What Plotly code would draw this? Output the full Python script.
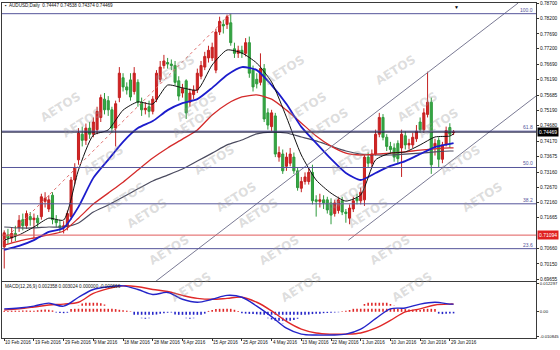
import plotly.graph_objects as go

# ---------------- DATA ----------------
bar_idx = list(range(122))
opens = [0.7071,0.7110,0.7100,0.7115,0.7135,0.7160,0.7140,0.7170,0.7160,0.7165,
         0.7170,0.7220,0.7195,0.7240,0.7160,0.7140,0.7135,0.7137,0.7170,0.7290,
         0.7356,0.7440,0.7420,0.7460,0.7440,0.7455,0.7495,0.7555,0.7550,0.7520,
         0.7460,0.7560,0.7625,0.7595,0.7618,0.7580,0.7610,0.7545,0.7520,0.7530,
         0.7515,0.7555,0.7620,0.7665,0.7675,0.7670,0.7665,0.7615,0.7575,0.7615,
         0.7545,0.7570,0.7585,0.7630,0.7660,0.7690,0.7690,0.7650,0.7775,0.7800,
         0.7800,0.7805,0.7720,0.7705,0.7715,0.7705,0.7740,0.7650,0.7620,0.7610,
         0.7655,0.7510,0.7465,0.7500,0.7365,0.7375,0.7335,0.7345,0.7365,0.7320,
         0.7263,0.7285,0.7285,0.7315,0.7225,0.7220,0.7225,0.7225,0.7215,0.7180,
         0.7190,0.7222,0.7185,0.7165,0.7195,0.7230,0.7222,0.7225,0.7365,0.7345,
         0.7375,0.7440,0.7495,0.7430,0.7400,0.7395,0.7410,0.7395,0.7435,0.7405,
         0.7405,0.7425,0.7480,0.7455,0.7505,0.7545,0.7400,0.7420,0.7358,0.7408,
         0.7462,0.74447]
highs = [0.7125,0.7130,0.7135,0.7140,0.7175,0.7180,0.7190,0.7185,0.7180,0.7175,
         0.7245,0.7250,0.7240,0.7250,0.7175,0.7160,0.7155,0.7190,0.7300,0.7345,
         0.7460,0.7465,0.7475,0.7480,0.7495,0.7530,0.7570,0.7575,0.7565,0.7530,
         0.7550,0.7660,0.7640,0.7610,0.7640,0.7660,0.7620,0.7560,0.7545,0.7550,
         0.7565,0.7650,0.7680,0.7700,0.7690,0.7685,0.7680,0.7630,0.7605,0.7620,
         0.7590,0.7600,0.7655,0.7680,0.7710,0.7730,0.7740,0.7785,0.7825,0.7815,
         0.7832,0.7835,0.7740,0.7730,0.7730,0.7755,0.7760,0.7665,0.7640,0.7705,
         0.7670,0.7525,0.7520,0.7510,0.7400,0.7390,0.7380,0.7395,0.7380,0.7330,
         0.7300,0.7315,0.7330,0.7340,0.7240,0.7245,0.7240,0.7235,0.7230,0.7225,
         0.7235,0.7235,0.7195,0.7210,0.7235,0.7245,0.7265,0.7375,0.7380,0.7390,
         0.7455,0.7510,0.7506,0.7440,0.7415,0.7410,0.7420,0.7455,0.7450,0.7425,
         0.7445,0.7470,0.7495,0.7525,0.7645,0.7560,0.7425,0.7430,0.7415,0.7465,
         0.7476,0.74538]
lows = [0.7000,0.7080,0.7085,0.7090,0.7120,0.7125,0.7130,0.7140,0.7100,0.7135,
        0.7160,0.7200,0.7185,0.7145,0.7135,0.7120,0.7115,0.7125,0.7160,0.7275,
        0.7340,0.7400,0.7405,0.7425,0.7430,0.7440,0.7480,0.7505,0.7500,0.7445,
        0.7400,0.7545,0.7580,0.7570,0.7550,0.7570,0.7530,0.7500,0.7505,0.7495,
        0.7505,0.7545,0.7610,0.7655,0.7655,0.7650,0.7600,0.7550,0.7560,0.7490,
        0.7530,0.7555,0.7575,0.7620,0.7650,0.7675,0.7680,0.7640,0.7765,0.7770,
        0.7785,0.7730,0.7690,0.7690,0.7690,0.7695,0.7625,0.7580,0.7590,0.7600,
        0.7480,0.7455,0.7450,0.7365,0.7350,0.7310,0.7320,0.7335,0.7310,0.7255,
        0.7250,0.7275,0.7275,0.7210,0.7170,0.7200,0.7195,0.7180,0.7145,0.7170,
        0.7180,0.7175,0.7150,0.7145,0.7185,0.7210,0.7210,0.7205,0.7330,0.7330,
        0.7370,0.7430,0.7420,0.7385,0.7375,0.7350,0.7345,0.7300,0.7390,0.7390,
        0.7395,0.7415,0.7445,0.7445,0.7495,0.7310,0.7370,0.7330,0.7345,0.7400,
        0.7395,0.74374]
closes = [0.7117,0.7100,0.7115,0.7108,0.7158,0.7140,0.7180,0.7160,0.7165,0.7150,
          0.7235,0.7230,0.7225,0.7160,0.7150,0.7135,0.7140,0.7180,0.7290,0.7330,
          0.7444,0.7420,0.7460,0.7440,0.7480,0.7515,0.7560,0.7520,0.7520,0.7460,
          0.7540,0.7640,0.7595,0.7585,0.7562,0.7640,0.7545,0.7520,0.7525,0.7515,
          0.7555,0.7640,0.7660,0.7680,0.7670,0.7665,0.7610,0.7565,0.7590,0.7510,
          0.7575,0.7585,0.7640,0.7665,0.7695,0.7715,0.7725,0.7775,0.7810,0.7795,
          0.7825,0.7740,0.7705,0.7715,0.7705,0.7740,0.7640,0.7595,0.7605,0.7655,
          0.7490,0.7470,0.7510,0.7375,0.7380,0.7320,0.7365,0.7375,0.7320,0.7265,
          0.7285,0.7300,0.7315,0.7222,0.7220,0.7225,0.7215,0.7192,0.7175,0.7215,
          0.7225,0.7185,0.7180,0.7198,0.7222,0.7222,0.7250,0.7365,0.7345,0.7375,
          0.7440,0.7495,0.7430,0.7400,0.7390,0.7365,0.7360,0.7440,0.7405,0.7410,
          0.7430,0.7450,0.7455,0.7510,0.7545,0.7340,0.7410,0.7358,0.7405,0.7452,
          0.7440,0.74469]

# moving averages read at every 4th bar
ma_idx = [0,4,8,12,16,20,24,28,32,36,40,44,48,52,56,60,64,68,72,76,80,84,88,92,96,100,104,108,112,116,120,121]
ma_black = [0.7093,0.7110,0.7136,0.7165,0.7159,0.7323,0.7437,0.7454,0.7519,0.7546,0.7539,0.7601,0.7592,0.7585,0.7667,0.7716,
            0.7706,0.7673,0.7611,0.7496,0.7372,0.7290,0.7247,0.7221,0.7241,0.7356,0.7378,0.7382,0.7405,0.7431,0.7434,0.7441]
ma_blue = [0.7061,0.7074,0.7093,0.7120,0.7133,0.7202,0.7297,0.7356,0.7415,0.7460,0.7483,0.7519,0.7542,0.7555,0.7592,0.7634,
           0.7660,0.7650,0.7601,0.7539,0.7464,0.7411,0.7359,0.7313,0.7290,0.7313,0.7336,0.7352,0.7375,0.7398,0.7408,0.7411]
ma_red = [0.7077,0.7090,0.7100,0.7110,0.7123,0.7165,0.7211,0.7247,0.7283,0.7323,0.7362,0.7395,0.7424,0.7454,0.7503,0.7539,
          0.7562,0.7569,0.7555,0.7519,0.7477,0.7434,0.7401,0.7378,0.7372,0.7375,0.7378,0.7382,0.7388,0.7392,0.7395,0.7395]
ma_gray = [0.7136,0.7133,0.7133,0.7136,0.7136,0.7149,0.7185,0.7208,0.7234,0.7261,0.7287,0.7306,0.7326,0.7352,0.7378,0.7405,
           0.7421,0.7441,0.7447,0.7444,0.7431,0.7418,0.7401,0.7385,0.7375,0.7372,0.7372,0.7375,0.7378,0.7382,0.7385,0.7385]

# MACD
macd_main = [0.0013,0.0017,0.0025,0.0038,0.0025,0.0064,0.0098,0.0110,0.0114,0.0098,0.0076,0.0085,0.0055,0.0042,0.0055,0.0072,
             0.0064,0.0025,-0.0021,-0.0072,-0.0098,-0.0102,-0.0102,-0.0098,-0.0076,-0.0030,0.0013,0.0017,0.0034,0.0042,0.0034,0.0034]
macd_signal = [0.0008,0.0013,0.0021,0.0030,0.0034,0.0042,0.0081,0.0102,0.0114,0.0110,0.0098,0.0089,0.0072,0.0059,0.0055,0.0059,
               0.0064,0.0042,0.0004,-0.0042,-0.0076,-0.0093,-0.0098,-0.0098,-0.0093,-0.0072,-0.0038,0.0000,0.0013,0.0030,0.0034,0.0034]
macd_hist = [0.0004,0.0004,0.0005,0.0005,0.0005,0.0006,0.0006,0.0005,0.0005,
             0.0007,0.0009,0.0010,0.0009,0.0006,
             -0.0003,-0.0005,-0.0006,-0.0004,
             0.0012,0.0020,0.0028,
             0.0036,0.0042,0.0045,0.0044,0.0042,0.0038,
             0.0032,0.0026,0.0020,
             0.0012,0.0009,0.0007,0.0005,0.0002,
             -0.0015,-0.0022,-0.0028,-0.0030,-0.0028,-0.0022,
             -0.0012,-0.0008,-0.0006,-0.0004,-0.0003,
             -0.0012,-0.0020,-0.0024,-0.0028,-0.0030,-0.0028,-0.0024,
             -0.0018,-0.0008,
             0.0004,0.0008,0.0012,
             0.0017,0.0021,0.0020,0.0016,
             0.0009,0.0004,
             -0.0006,-0.0008,-0.0009,-0.0010,-0.0011,-0.0012,
             -0.0020,-0.0028,-0.0034,-0.0042,-0.0050,-0.0054,-0.0050,
             -0.0042,-0.0036,-0.0030,-0.0024,-0.0019,
             -0.0012,-0.0010,-0.0009,-0.0008,-0.0006,-0.0005,-0.0004,-0.0003,-0.0002,
             0.0003,0.0005,0.0008,
             0.0014,0.0020,0.0027,0.0034,0.0040,0.0045,0.0050,0.0052,
             0.0048,0.0040,0.0034,0.0028,0.0022,
             0.0015,0.0012,0.0010,0.0009,0.0008,0.0008,
             0.0012,0.0015,0.0014,0.0012,
             -0.0008,-0.0010,-0.0009,-0.0007,-0.0007]

# Fibonacci retracement (low -> high) and drawn objects (anchor bar index, price)
fib_low_point = (-22, 0.6827)
fib_high_point = (61, 0.7835)
fib_levels = [0.7835, 0.7450, 0.7331, 0.7212, 0.7065]
fib_texts = ["100.0", "61.8", "50.0", "38.2", "23.6"]
support_level = 0.71094
last_price = 0.74469
channel_upper = [(30.0, 0.6857), (138.4, 0.7870)]
channel_lower = [(92.7, 0.7093), (143.2, 0.7565)]

# axis labels
price_ticks = [0.78700, 0.78200, 0.77690, 0.77200, 0.76690, 0.76190, 0.75685, 0.75190, 0.74680, 0.74170,
               0.73675, 0.73160, 0.72670, 0.72160, 0.71665, 0.70660, 0.70150, 0.69655]
macd_ticks = [0.0123, 0.0, -0.010845]
macd_tick_text = ["0.012297", "0.00", "-0.010845"]
date_tick_idx = [0, 8, 16, 24, 32, 40, 48, 56, 64, 72, 80, 88, 96, 104, 112, 120]
date_tick_text = ["10 Feb 2016", "19 Feb 2016", "29 Feb 2016", "9 Mar 2016", "18 Mar 2016", "28 Mar 2016",
                  "6 Apr 2016", "15 Apr 2016", "25 Apr 2016", "4 May 2016", "13 May 2016", "22 May 2016",
                  "1 Jun 2016", "10 Jun 2016", "20 Jun 2016", "29 Jun 2016"]

FONT = "Liberation Sans"
FIBC = "#55559a"

fig = go.Figure()

# candles
fig.add_trace(go.Candlestick(
    x=bar_idx, open=opens, high=highs, low=lows, close=closes,
    increasing=dict(line=dict(color="#c42020", width=1), fillcolor="#d42424"),
    decreasing=dict(line=dict(color="#2e9a3c", width=1), fillcolor="#36a844"),
    whiskerwidth=0, xaxis="x", yaxis="y", showlegend=False, hoverinfo="skip"))

# moving averages
for vals, col, w in [(ma_gray, "#4c4c60", 1.2), (ma_red, "#d42a2a", 1.3),
                     (ma_blue, "#1c1ccc", 1.8), (ma_black, "#111111", 1.0)]:
    fig.add_trace(go.Scatter(x=ma_idx, y=vals, mode="lines", line=dict(color=col, width=w, shape="spline", smoothing=0.6),
                             xaxis="x", yaxis="y", showlegend=False, hoverinfo="skip"))

# fib diagonal
fig.add_trace(go.Scatter(x=[fib_low_point[0], fib_high_point[0]], y=[fib_low_point[1], fib_high_point[1]],
                         mode="lines", line=dict(color="#e07070", width=1, dash="dot"),
                         xaxis="x", yaxis="y", showlegend=False, hoverinfo="skip"))
# channel lines
for ch in (channel_upper, channel_lower):
    fig.add_trace(go.Scatter(x=[ch[0][0], ch[1][0]], y=[ch[0][1], ch[1][1]], mode="lines",
                             line=dict(color="#7a7a94", width=1), xaxis="x", yaxis="y",
                             showlegend=False, hoverinfo="skip"))

# MACD histogram (dotted bars)
hx_pos, hy_pos, hx_neg, hy_neg = [], [], [], []
for i, v in zip(bar_idx, macd_hist):
    if v >= 0:
        hx_pos += [i, i, None]; hy_pos += [0, v, None]
    else:
        hx_neg += [i, i, None]; hy_neg += [0, v, None]
fig.add_trace(go.Scatter(x=hx_pos, y=hy_pos, mode="lines", line=dict(color="#e02828", width=1.6, dash="dot"),
                         xaxis="x2", yaxis="y2", showlegend=False, hoverinfo="skip"))
fig.add_trace(go.Scatter(x=hx_neg, y=hy_neg, mode="lines", line=dict(color="#2424c8", width=1.6, dash="dot"),
                         xaxis="x2", yaxis="y2", showlegend=False, hoverinfo="skip"))
fig.add_trace(go.Scatter(x=ma_idx, y=macd_signal, mode="lines", line=dict(color="#e02828", width=1.4, shape="spline"),
                         xaxis="x2", yaxis="y2", showlegend=False, hoverinfo="skip"))
fig.add_trace(go.Scatter(x=ma_idx, y=macd_main, mode="lines", line=dict(color="#2424c8", width=1.4, shape="spline"),
                         xaxis="x2", yaxis="y2", showlegend=False, hoverinfo="skip"))

shapes = []
for lv in fib_levels:
    shapes.append(dict(type="line", xref="paper", x0=0, x1=1, yref="y", y0=lv, y1=lv,
                       line=dict(color=FIBC, width=1)))
shapes.append(dict(type="line", xref="paper", x0=0, x1=1, yref="y", y0=support_level, y1=support_level,
                   line=dict(color="#e05a5a", width=1)))
shapes.append(dict(type="line", xref="paper", x0=0, x1=1, yref="y", y0=last_price, y1=last_price,
                   line=dict(color="#1a1a3a", width=1)))

ann = []
# watermark (drawn first so that the real labels sit on top)
for c in range(-2, 5):
    for r in range(0, 10):
        px = -10 + 137 * c + 22 * r
        py = 12 + 37 * r
        if 30 < px < 515 and 22 < py < 326:
            ann.append(dict(x=(px - 1) / 538, y=(338 - py) / 335, xref="paper", yref="paper",
                            text="<b>AETOS</b>", showarrow=False, textangle=-32,
                            font=dict(family="DejaVu Sans", size=12, color="rgba(150,150,150,0.32)")))

for lv, t in zip(fib_levels, fib_texts):
    ann.append(dict(x=1, xref="paper", xanchor="right", xshift=-2, y=lv, yref="y", yanchor="bottom",
                    text=t, showarrow=False, font=dict(family=FONT, size=5, color=FIBC), borderpad=0))
ann.append(dict(x=1, xref="paper", xanchor="left", xshift=1, y=last_price, yref="y", yanchor="middle",
                text=f"{last_price:.5f}", showarrow=False, bgcolor="#000000",
                font=dict(family=FONT, size=5, color="#ffffff"), borderpad=1))
ann.append(dict(x=1, xref="paper", xanchor="left", xshift=1, y=support_level, yref="y", yanchor="middle",
                text=f"{support_level:.5f}", showarrow=False, bgcolor="#e02020",
                font=dict(family=FONT, size=5, color="#ffffff"), borderpad=1))
for i, t in zip(date_tick_idx, date_tick_text):
    ann.append(dict(x=i, xref="x2", xanchor="left", y=0, yref="paper", yanchor="top", yshift=-1,
                    text=t, showarrow=False, font=dict(family=FONT, size=4.6, color="#111"), borderpad=0))
ann.append(dict(x=0.004, xref="paper", xanchor="left", y=0.9935, yref="paper", yanchor="middle",
                text="▪  AUDUSD,Daily  0.74447 0.74538 0.74374 0.74469", showarrow=False,
                font=dict(family=FONT, size=4.6, color="#111"), borderpad=0))
ann.append(dict(x=0.004, xref="paper", xanchor="left", y=0.155, yref="paper", yanchor="middle",
                text="MACD(12,26,9) 0.002358 0.003024 0.000000 -0.000666", showarrow=False,
                font=dict(family=FONT, size=4.6, color="#111"), borderpad=0))
ann.append(dict(x=(462 - 1) / 538, xref="paper", y=1, yref="paper", yanchor="top", text="▼", showarrow=False,
                font=dict(size=5, color="#000"), borderpad=0))

axcommon = dict(showgrid=False, zeroline=False, showline=True, mirror=True, linecolor="#3a3a3a", linewidth=1)
fig.update_layout(
    width=560, height=350, margin=dict(l=1, r=21, t=3, b=12),
    paper_bgcolor="white", plot_bgcolor="white", showlegend=False, boxgap=0.2,
    xaxis=dict(domain=[0, 1], range=[-0.6, 143.2], anchor="y", showticklabels=False, ticks="",
               rangeslider=dict(visible=False), **axcommon),
    yaxis=dict(domain=[0.1701, 1], range=[0.6959, 0.787], anchor="x", side="right",
               tickvals=price_ticks, ticktext=[f"{v:.5f}" for v in price_ticks], ticks="outside", ticklen=2,
               tickcolor="#333", tickfont=dict(family=FONT, size=4.8, color="#111"), **axcommon),
    xaxis2=dict(domain=[0, 1], range=[-0.6, 143.2], anchor="y2", matches="x", tickvals=date_tick_idx,
                showticklabels=False, ticks="outside", ticklen=2, tickcolor="#333",
                rangeslider=dict(visible=False), **axcommon),
    yaxis2=dict(domain=[0, 0.1672], range=[-0.0115, 0.0131], anchor="x2", side="right",
                tickvals=macd_ticks, ticktext=macd_tick_text, ticks="outside", ticklen=2, tickcolor="#333",
                tickfont=dict(family=FONT, size=4.2, color="#111"), **axcommon),
    shapes=shapes, annotations=ann,
)

fig.write_html("out.html")
